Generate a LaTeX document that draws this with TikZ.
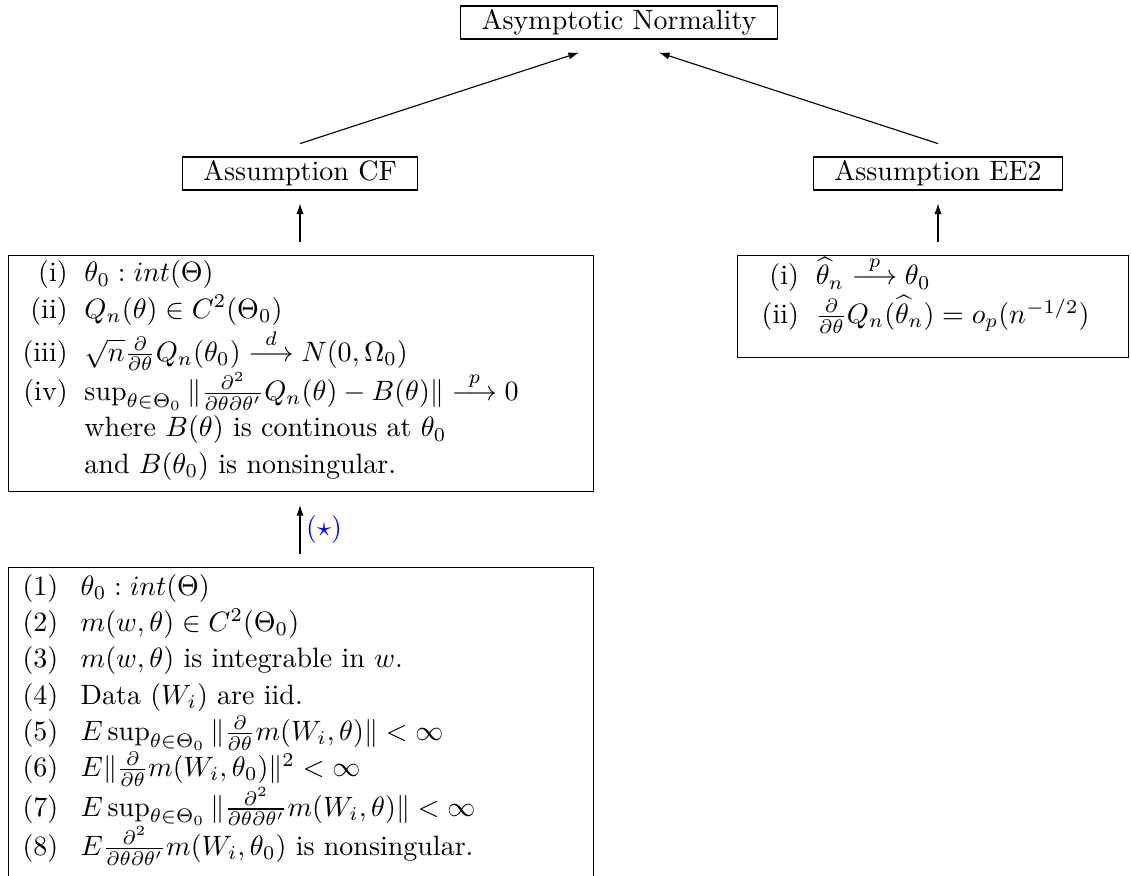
\documentclass[tikz,border=0pt]{standalone}
\usepackage{amsmath,amssymb}
\usetikzlibrary{arrows.meta}
\begin{document}
\renewcommand{\arraystretch}{1.08}
\begin{tikzpicture}[x=0.35714pt,y=-0.35714pt,
  hdr/.style={draw, line width=0.4pt, inner xsep=7.5pt, inner ysep=1.5pt, text height=6.83pt, text depth=1.94pt},
  frame/.style={draw, line width=0.4pt, anchor=north west, inner sep=0pt},
  lsttext/.style={anchor=north west, inner sep=0pt, align=left},
  arr/.style={-{Latex[length=3.8pt,width=2.6pt]}, line width=0.4pt}]
\useasboundingbox (0,0) rectangle (1131,875);
\clip (0,0) rectangle (1131,875);
\node[hdr] (AN) at (619,22.5) {Asymptotic Normality};
\node[hdr] (CF) at (300,173.5) {Assumption CF};
\node[hdr] (EE) at (938,173.5) {Assumption EE2};
\node[frame, minimum width=208.9pt, minimum height=84.3pt] (L) at (8,255) {};
\node[lsttext] (Lt) at ([xshift=5pt,yshift=-0.3pt]L.north west) {\begin{tabular}{@{}r@{\hspace{6pt}}l@{}}
(i) & $\theta_0 : int(\Theta)$\\
(ii) & $Q_n(\theta)\in C^2(\Theta_0)$\\
(iii) & $\sqrt{n}\frac{\partial}{\partial\theta}Q_n(\theta_0)\stackrel{d}{\longrightarrow}N(0,\Omega_0)$\\
(iv) & $\sup_{\theta\in\Theta_0}\|\frac{\partial^2}{\partial\theta\partial\theta'}Q_n(\theta)-B(\theta)\|\stackrel{p}{\longrightarrow}0$\\
 & where $B(\theta)$ is continous at $\theta_0$\\
 & and $B(\theta_0)$ is nonsingular.
\end{tabular}};
\node[frame, minimum width=139.6pt, minimum height=36.4pt] (R) at (737,255) {};
\node[lsttext] (Rt) at ([xshift=8.6pt,yshift=-0.3pt]R.north west) {\begin{tabular}{@{}r@{\hspace{6pt}}l@{}}
(i) & $\widehat{\theta}_n\stackrel{p}{\longrightarrow}\theta_0$\\
(ii) & $\frac{\partial}{\partial\theta}Q_n(\widehat{\theta}_n)=o_p(n^{-1/2})$
\end{tabular}};
\node[frame, minimum width=208.9pt, minimum height=125pt] (B) at (8,567) {};
\node[lsttext] (Bt) at ([xshift=5pt,yshift=-0.8pt]B.north west) {\begin{tabular}{@{}r@{\hspace{8pt}}l@{}}
(1) & $\theta_0 : int(\Theta)$\\
(2) & $m(w,\theta)\in C^2(\Theta_0)$\\
(3) & $m(w,\theta)$ is integrable in $w$.\\
(4) & Data $(W_i)$ are iid.\\
(5) & $E\sup_{\theta\in\Theta_0}\|\frac{\partial}{\partial\theta}m(W_i,\theta)\|<\infty$\\
(6) & $E\|\frac{\partial}{\partial\theta}m(W_i,\theta_0)\|^2<\infty$\\
(7) & $E\sup_{\theta\in\Theta_0}\|\frac{\partial^2}{\partial\theta\partial\theta'}m(W_i,\theta)\|<\infty$\\
(8) & $E\frac{\partial^2}{\partial\theta\partial\theta'}m(W_i,\theta_0)$ is nonsingular.
\end{tabular}};
\draw[arr, shorten >=15pt] ([yshift=4.6pt]CF.north) -- (AN.south);
\draw[arr, shorten >=15pt] ([yshift=4.6pt]EE.north) -- (AN.south);
\draw[arr, shorten <=4.6pt, shorten >=4.6pt] (L.north -| CF.south) -- (CF.south);
\draw[arr, shorten <=4.6pt, shorten >=4.6pt] (R.north -| EE.south) -- (EE.south);
\draw[arr, shorten <=4.6pt, shorten >=4.6pt] (B.north -| CF.south) -- node[right, blue, inner sep=2pt] {$(\star)$} (L.south -| CF.south);
\end{tikzpicture}
\end{document}
